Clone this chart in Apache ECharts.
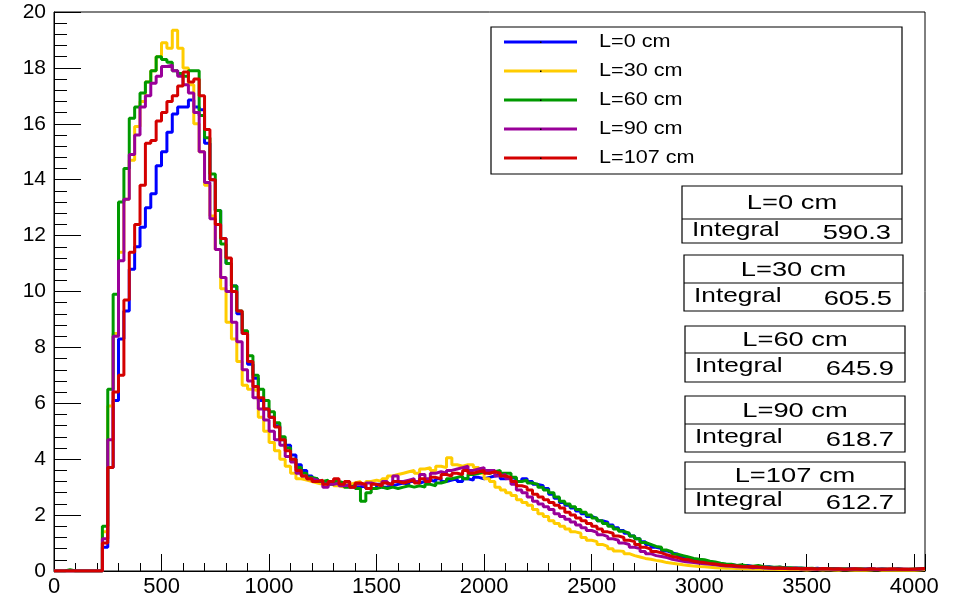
<!DOCTYPE html>
<html>
<head>
<meta charset="utf-8">
<script src="https://cdn.jsdelivr.net/npm/echarts@6/dist/echarts.min.js"></script>
<style>
  html, body { margin: 0; padding: 0; background: #fff; }
  #chart { width: 966px; height: 600px; }
</style>
</head>
<body>
<div id="chart"></div>
<script>
// histogram bins: 25 wide, starting at 0
var binWidth = 25
var seriesNames = ['L=0 cm', 'L=30 cm', 'L=60 cm', 'L=90 cm', 'L=107 cm']
var colors = ['#0000ff', '#ffcc00', '#009900', '#990099', '#d40000']
var integrals = ['590.3', '605.5', '645.9', '618.7', '612.7']

var l0 = [0, 0, 0, 0, 0, 0, 0, 0, 0,
  0.85, 3.7, 6.1, 8.3, 9.3, 10.8, 11.6, 12.3, 13.0, 13.5,
  14.5, 15.0, 15.7, 16.35, 16.6, 16.6, 16.85, 16.6, 16.5, 15.3,
  14.0, 12.9, 11.9, 11.0, 10.2, 9.2, 8.5, 7.4, 6.9, 6.1,
  5.8, 5.5, 5.2, 4.7, 4.5, 4.15, 3.8, 3.6, 3.4, 3.3,
  3.2, 3.15, 3.2, 3.1, 3.15, 3.05, 3.1, 3.0, 3.05, 2.95,
  3.0, 3.1, 3.0, 3.05, 3.1, 3.15, 3.1, 3.2, 3.15, 3.2,
  3.25, 3.2, 3.3, 3.2, 3.25, 3.3, 3.2, 3.3, 3.25, 3.35,
  3.3, 3.35, 3.4, 3.45, 3.3, 3.35, 3.3, 3.2, 3.3, 3.2,
  3.1, 3.05, 2.95, 2.75, 2.6, 2.45, 2.35, 2.25, 2.15, 2.05,
  1.95, 1.88, 1.8, 1.75, 1.65, 1.55, 1.45, 1.35, 1.25, 1.15,
  1.05, 0.95, 0.85, 0.8, 0.72, 0.65, 0.6, 0.52, 0.48, 0.42,
  0.38, 0.33, 0.3, 0.28, 0.25, 0.22, 0.22, 0.2, 0.18, 0.2,
  0.16, 0.15, 0.14, 0.15, 0.12, 0.13, 0.12, 0.1, 0.11, 0.1,
  0.09, 0.08, 0.1, 0.07, 0.08, 0.09, 0.07, 0.06, 0.08, 0.07,
  0.06, 0.07, 0.08, 0.06, 0.07, 0.06, 0.05, 0.07, 0.06, 0.05,
  0.06, 0.08, 0.07]

var l30 = [0, 0, 0, 0, 0, 0, 0, 0, 0,
  1.4, 5.9, 8.5, 11.4, 13.3, 14.7, 15.9, 16.8, 17.5, 17.9,
  18.4, 18.9, 18.7, 19.35, 18.7, 18.0, 17.4, 16.0, 15.0, 13.8,
  12.7, 11.5, 10.1, 8.9, 8.3, 7.5, 6.65, 6.5, 6.45, 5.5,
  5.0, 4.6, 4.3, 4.0, 3.75, 3.5, 3.3, 3.25, 3.2, 3.15,
  3.1, 3.1, 3.15, 3.05, 3.0, 3.1, 3.15, 3.2, 3.1, 3.2,
  3.25, 3.2, 3.3, 3.4, 3.45, 3.5, 3.55, 3.6, 3.5, 3.65,
  3.7, 3.6, 3.75, 3.7, 4.05, 3.8, 3.75, 3.8, 3.8, 3.7,
  3.5, 3.3, 3.2, 3.0, 2.9, 2.8, 2.7, 2.55, 2.45, 2.35,
  2.2, 2.05, 1.95, 1.8, 1.7, 1.6, 1.5, 1.4, 1.35, 1.2,
  1.1, 1.05, 0.95, 0.88, 0.8, 0.72, 0.7, 0.62, 0.55, 0.5,
  0.45, 0.42, 0.38, 0.35, 0.3, 0.28, 0.25, 0.22, 0.2, 0.18,
  0.16, 0.15, 0.13, 0.12, 0.11, 0.1, 0.1, 0.09, 0.08, 0.08,
  0.07, 0.08, 0.06, 0.07, 0.06, 0.05, 0.06, 0.05, 0.06, 0.05,
  0.04, 0.05, 0.05, 0.04, 0.05, 0.04, 0.03, 0.05, 0.04, 0.03,
  0.04, 0.03, 0.04, 0.05, 0.03, 0.04, 0.03, 0.04, 0.03, 0.04,
  0.03, 0.04, 0.05]

var l60 = [0, 0, 0.05, 0, 0, 0, 0, 0, 0,
  1.6, 6.5, 9.9, 13.2, 14.4, 16.2, 16.6, 17.1, 17.5, 17.9,
  18.4, 18.3, 18.2, 17.9, 17.8, 17.7, 17.9, 17.9, 16.3, 15.5,
  14.2, 12.9, 11.7, 11.0, 10.2, 9.3, 8.6, 7.7, 7.0, 6.5,
  6.1, 5.7, 5.3, 4.8, 4.4, 4.0, 3.7, 3.5, 3.35, 3.3,
  3.2, 3.25, 3.1, 3.2, 3.15, 3.0, 3.05, 2.95, 2.5, 2.8,
  2.95, 3.0, 2.95, 3.0, 2.95, 3.0, 3.05, 3.0, 3.05, 3.0,
  3.1, 3.05, 3.15, 3.2, 3.3, 3.35, 3.4, 3.3, 3.45, 3.5,
  3.55, 3.5, 3.55, 3.6, 3.5, 3.5, 3.35, 3.2, 3.25, 3.15,
  3.1, 3.0, 2.9, 2.8, 2.65, 2.5, 2.4, 2.3, 2.2, 2.1,
  2.0, 1.9, 1.8, 1.7, 1.6, 1.5, 1.42, 1.35, 1.25, 1.15,
  1.02, 0.95, 0.88, 0.85, 0.75, 0.68, 0.6, 0.55, 0.5, 0.45,
  0.42, 0.4, 0.35, 0.32, 0.28, 0.25, 0.24, 0.2, 0.22, 0.18,
  0.17, 0.2, 0.15, 0.14, 0.13, 0.14, 0.11, 0.12, 0.1, 0.11,
  0.09, 0.1, 0.08, 0.07, 0.09, 0.08, 0.07, 0.08, 0.06, 0.07,
  0.08, 0.06, 0.07, 0.05, 0.07, 0.06, 0.06, 0.08, 0.05, 0.06,
  0.07, 0.06, 0.1]

var l90 = [0, 0, 0, 0, 0, 0, 0, 0, 0,
  1.15, 4.7, 8.4, 11.1, 13.3, 14.9, 15.6, 16.6, 17.0, 17.45,
  17.7, 18.05, 18.1, 17.9, 17.7, 17.4, 17.1, 16.4, 15.0, 13.9,
  12.6, 11.5, 10.5, 10.0, 8.9, 8.2, 7.2, 6.8, 6.2, 5.8,
  5.4, 5.0, 4.7, 4.5, 4.1, 3.9, 3.5, 3.4, 3.3, 3.25,
  3.2, 3.0, 3.1, 3.15, 3.05, 3.1, 3.0, 3.1, 3.05, 3.15,
  3.1, 3.05, 3.2, 3.1, 3.4, 3.2, 3.25, 3.3, 3.2, 3.45,
  3.3, 3.5, 3.55, 3.5, 3.6, 3.65, 3.7, 3.75, 3.6, 3.65,
  3.7, 3.6, 3.6, 3.4, 3.45, 3.3, 3.1, 2.9, 2.8, 2.65,
  2.5, 2.4, 2.3, 2.2, 2.05, 1.95, 1.85, 1.75, 1.65, 1.55,
  1.45, 1.38, 1.3, 1.23, 1.15, 1.1, 1.0, 0.95, 0.85, 0.8,
  0.7, 0.62, 0.55, 0.52, 0.48, 0.42, 0.38, 0.35, 0.32, 0.3,
  0.28, 0.26, 0.24, 0.22, 0.2, 0.18, 0.17, 0.15, 0.14, 0.14,
  0.12, 0.13, 0.11, 0.1, 0.11, 0.1, 0.09, 0.08, 0.09, 0.07,
  0.08, 0.07, 0.06, 0.08, 0.07, 0.06, 0.07, 0.05, 0.06, 0.07,
  0.05, 0.06, 0.07, 0.05, 0.06, 0.05, 0.06, 0.07, 0.05, 0.06,
  0.05, 0.06, 0.08]

var l107 = [0, 0, 0, 0, 0, 0, 0, 0, 0,
  1.0, 3.7, 6.4, 7.0, 9.7, 11.4, 12.4, 13.8, 15.3, 15.4,
  16.1, 16.4, 16.8, 17.0, 17.35, 17.85, 17.5, 17.6, 17.0, 15.8,
  14.0, 12.4, 11.9, 11.2, 10.0, 9.3, 8.5, 7.5, 6.6, 6.2,
  5.8, 5.5, 5.15, 4.7, 4.3, 4.0, 3.6, 3.4, 3.3, 3.2,
  3.25, 3.1, 3.2, 3.3, 3.1, 3.2, 3.0, 3.15, 3.1, 2.95,
  3.1, 3.05, 3.15, 3.1, 3.2, 3.15, 3.2, 3.25, 3.15, 3.3,
  3.2, 3.35, 3.3, 3.45, 3.4, 3.5, 3.45, 3.6, 3.5, 3.55,
  3.6, 3.5, 3.55, 3.5, 3.4, 3.35, 3.2, 3.05, 3.0, 2.9,
  2.75, 2.65, 2.55, 2.45, 2.35, 2.25, 2.1, 2.0, 1.9, 1.8,
  1.7, 1.6, 1.5, 1.4, 1.35, 1.25, 1.2, 1.1, 1.05, 0.95,
  0.85, 0.78, 0.7, 0.65, 0.58, 0.52, 0.48, 0.42, 0.4, 0.35,
  0.32, 0.3, 0.27, 0.25, 0.22, 0.2, 0.2, 0.18, 0.16, 0.15,
  0.16, 0.14, 0.13, 0.12, 0.1, 0.11, 0.1, 0.09, 0.1, 0.08,
  0.09, 0.08, 0.07, 0.09, 0.08, 0.07, 0.08, 0.06, 0.07, 0.08,
  0.07, 0.06, 0.08, 0.07, 0.06, 0.07, 0.08, 0.06, 0.07, 0.06,
  0.07, 0.08, 0.09]

var histograms = [l0, l30, l60, l90, l107]
var xMax = binWidth * l0.length

// bin low edges -> step line, last point closes the final bin
function toSteps (values) {
  var pts = values.map(function (v, i) { return [i * binWidth, v] })
  pts.push([values.length * binWidth, values[values.length - 1]])
  return pts
}

var font = 'Liberation Sans, Arial, Helvetica, sans-serif'

// legend + stats boxes drawn by hand, ROOT style
var graphics = []
graphics.push({
  type: 'rect', z: 100,
  shape: { x: 491, y: 27, width: 411, height: 147 },
  style: { fill: '#fff', stroke: '#000', lineWidth: 1.2 }
})
seriesNames.forEach(function (name, i) {
  var y = 42 + 29 * i
  graphics.push({
    type: 'line', z: 101,
    shape: { x1: 504, y1: y, x2: 577, y2: y },
    style: { stroke: colors[i], lineWidth: 3 }
  })
  graphics.push({
    type: 'rect', z: 102,
    shape: { x: 540, y: y - 0.5, width: 1.5, height: 1.5 },
    style: { fill: '#000' }
  })
  graphics.push({
    type: 'text', z: 101, x: 599, y: y, scaleX: 1.2,
    style: { text: name, font: '18px ' + font, fill: '#000', textVerticalAlign: 'middle' }
  })
})

var boxes = [
  { x: 682, y: 186, w: 220, h: 57, div: 219 },
  { x: 684, y: 255, w: 219, h: 56, div: 283 },
  { x: 685, y: 326, w: 220, h: 56, div: 353 },
  { x: 685, y: 396, w: 220, h: 56, div: 424 },
  { x: 685, y: 462, w: 220, h: 51, div: 489 }
]
boxes.forEach(function (b, i) {
  graphics.push({
    type: 'rect', z: 100,
    shape: { x: b.x, y: b.y, width: b.w, height: b.h },
    style: { fill: '#fff', stroke: '#000', lineWidth: 1.2 }
  })
  graphics.push({
    type: 'line', z: 101,
    shape: { x1: b.x, y1: b.div, x2: b.x + b.w, y2: b.div },
    style: { stroke: '#000', lineWidth: 1.2 }
  })
  graphics.push({
    type: 'text', z: 101, x: b.x + b.w / 2, y: (b.y + b.div) / 2 + 1, scaleX: 1.3,
    style: { text: seriesNames[i], font: '21px ' + font, fill: '#000', textAlign: 'center', textVerticalAlign: 'middle' }
  })
  graphics.push({
    type: 'text', z: 101, x: b.x + 10, y: (b.div + b.y + b.h) / 2 - 1, scaleX: 1.25,
    style: { text: 'Integral', font: '21px ' + font, fill: '#000', textVerticalAlign: 'middle' }
  })
  graphics.push({
    type: 'text', z: 101, x: b.x + b.w - 11, y: (b.div + b.y + b.h) / 2 + 2, scaleX: 1.3,
    style: { text: integrals[i], font: '21px ' + font, fill: '#000', textAlign: 'right', textVerticalAlign: 'middle' }
  })
})

var option = {
  backgroundColor: '#fff',
  animation: false,
  grid: {
    left: 54, top: 12, width: 871, height: 559,
    show: true, borderColor: '#000', borderWidth: 1,
    outerBoundsMode: 'none'
  },
  xAxis: {
    type: 'value',
    min: 0,
    max: xMax,
    interval: 500,
    axisLine: { show: true, lineStyle: { color: '#000', width: 1 } },
    axisTick: { inside: true, length: 17, lineStyle: { color: '#000' } },
    minorTick: { show: true, splitNumber: 5, length: 8, lineStyle: { color: '#000' } },
    splitLine: { show: false },
    axisLabel: {
      color: '#000', fontSize: 22, fontFamily: font, margin: 5,
      formatter: function (v) { return v % 500 === 0 ? String(v) : '' }
    }
  },
  yAxis: {
    type: 'value',
    min: 0,
    max: 20,
    interval: 2,
    axisLine: { show: true, lineStyle: { color: '#000', width: 1 } },
    axisTick: { inside: true, length: 27, lineStyle: { color: '#000' } },
    minorTick: { show: true, splitNumber: 5, length: 13, lineStyle: { color: '#000' } },
    splitLine: { show: false },
    axisLabel: { color: '#000', fontSize: 21, fontFamily: font, margin: 8 }
  },
  series: histograms.map(function (h, i) {
    return {
      name: seriesNames[i],
      type: 'line',
      step: 'end',
      data: toSteps(h),
      showSymbol: false,
      symbol: 'none',
      lineStyle: { color: colors[i], width: 3 },
      itemStyle: { color: colors[i] },
      emphasis: { disabled: true },
      z: 2 + i
    }
  }),
  graphic: graphics
}

var myChart = echarts.init(document.getElementById('chart'))
myChart.setOption(option)
</script>
</body>
</html>
